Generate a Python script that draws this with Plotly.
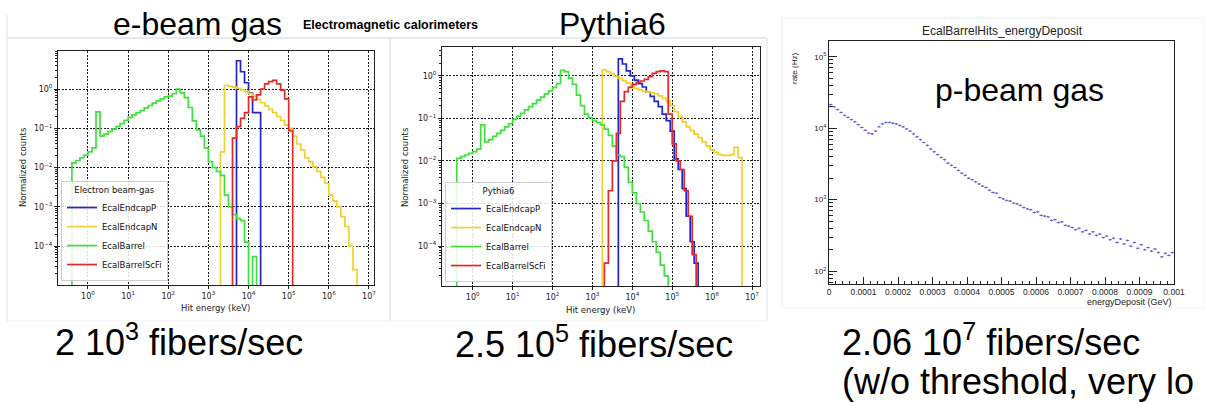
import plotly.graph_objects as go

# ===================== data =====================
SERIES = ["EcalEndcapP", "EcalEndcapN", "EcalBarrel", "EcalBarrelScFi"]
BIN = 0.1  # histogram bin width, decades of keV

# --- e-beam gas panel: lower edge of first bin (log10 keV), log10(normalized counts) per bin, None = empty bin
ebeam_endcapP_start = 3.7
ebeam_endcapP = [0.72, 0.44, 0.16, -0.1, -0.6, -0.6]
ebeam_endcapN_start = 3.3
ebeam_endcapN = [-1.6, 0.09, 0.07, 0.05, 0.02, -0.02, -0.06, -0.11, -0.18, -0.26, -0.35, -0.43,
                 -0.52, -0.6, -0.7, -0.8, -0.92, -1.0, -1.2, -1.4, -1.55, -1.75, -1.85, -1.98,
                 -2.1, -2.25, -2.4, -2.7, -2.85, -3.0, -3.25, -3.5, -4.0, -4.6]
ebeam_barrel_start = -0.4
ebeam_barrel = [-1.88, -1.82, -1.75, -1.68, -1.6, -1.5, -0.58, -1.2, -1.15, -1.08, -1.02, -0.95,
                -0.88, -0.8, -0.72, -0.66, -0.6, -0.55, -0.48, -0.42, -0.36, -0.3, -0.25, -0.2,
                -0.18, -0.12, 0.0, -0.1, -0.22, -0.47, -0.81, -1.04, -1.2, -1.5, -1.85, -2.0,
                -2.1, -2.2, -2.7, -3.0, -3.2, -3.3, -3.35, -3.9, None, -4.27]
ebeam_scfi_start = 3.6
ebeam_scfi = [-1.25, -0.96, -0.75, -0.6, -0.2, -0.28, -0.15, 0.0, 0.13, 0.19, 0.22, 0.13, -0.03,
              -0.25, -1.06]

# --- Pythia6 panel
pythia_endcapP_start = 3.65
pythia_endcapP = [0.4, 0.28, 0.12, 0.0, -0.1, -0.18, -0.26, -0.38, -0.48, -0.6, -0.72, -0.9,
                  -1.05, -1.3, -1.95, -2.2, -2.65, -3.3, -3.9, -4.4]
pythia_endcapN_start = 3.25
pythia_endcapN = [0.14, 0.1, 0.05, -0.01, -0.06, -0.11, -0.17, -0.24, -0.29, -0.33, -0.36, -0.38,
                  -0.40, -0.42, -0.47, -0.53, -0.6, -0.7, -0.84, -0.96, -1.08, -1.2, -1.28, -1.37,
                  -1.45, -1.55, -1.65, -1.74, -1.8, -1.85, -1.87, -1.87, -1.85, -1.68, -1.92]
pythia_barrel_start = -0.4
pythia_barrel = [-1.94, -1.9, -1.86, -1.82, -1.78, -1.72, -1.15, -1.55, -1.5, -1.42, -1.35, -1.28,
                 -1.2, -1.12, -1.02, -0.95, -0.88, -0.8, -0.72, -0.65, -0.57, -0.5, -0.42, -0.35,
                 -0.27, -0.18, 0.13, 0.1, -0.05, -0.2, -0.45, -0.7, -0.9, -0.98, -1.05, -1.1,
                 -1.15, -1.25, -1.4, -1.65, -1.86, -1.9, -2.15, -2.5, -2.75, -3.0, -3.2, -3.4,
                 -3.65, -3.9, -4.15, -4.45, -4.7]
pythia_scfi_start = 3.3
pythia_scfi = [-4.4, -2.7, -2.0, -1.35, -0.6, -0.37, -0.27, -0.2, -0.15, -0.12, -0.08, -0.02,
               0.06, 0.1, 0.12, 0.1, -0.9, -1.6, -2.0, -2.2, -2.7, -3.3, -4.2]

# --- p-beam gas panel: 100 bins over 0..0.001 GeV, log10(rate in Hz)
pbeam_range_gev = [0.0, 0.001]
pbeam_rate_log10 = [4.33, 4.30, 4.26, 4.22, 4.18, 4.15, 4.12, 4.09, 4.05, 4.01,
                    3.97, 3.93, 3.92, 3.96, 4.02, 4.06, 4.08, 4.08, 4.07, 4.06,
                    4.04, 4.02, 3.99, 3.96, 3.92, 3.88, 3.84, 3.80, 3.76, 3.71,
                    3.67, 3.63, 3.59, 3.56, 3.51, 3.48, 3.45, 3.41, 3.37, 3.34,
                    3.30, 3.28, 3.25, 3.22, 3.19, 3.17, 3.13, 3.10, 3.09, 3.03,
                    3.01, 2.99, 2.98, 2.95, 2.94, 2.92, 2.89, 2.87, 2.86, 2.82,
                    2.83, 2.78, 2.77, 2.76, 2.71, 2.72, 2.68, 2.69, 2.64, 2.63,
                    2.61, 2.58, 2.60, 2.55, 2.57, 2.52, 2.55, 2.50, 2.52, 2.47,
                    2.49, 2.44, 2.46, 2.40, 2.45, 2.38, 2.43, 2.35, 2.40, 2.32,
                    2.37, 2.30, 2.33, 2.28, 2.31, 2.26, 2.20, 2.25, 2.22, 2.26]

# --- tick labels
hist_xtick_exp = [0, 1, 2, 3, 4, 5, 6, 7]
hist_ytick_exp = [-4, -3, -2, -1, 0]
pbeam_xtick_vals = [0, 0.0001, 0.0002, 0.0003, 0.0004, 0.0005, 0.0006, 0.0007, 0.0008, 0.0009, 0.001]
pbeam_xtick_text = ["0", "0.0001", "0.0002", "0.0003", "0.0004", "0.0005", "0.0006",
                    "0.0007", "0.0008", "0.0009", "0.001"]
pbeam_ytick_exp = [2, 3, 4, 5]

# ===================== styling / layout =====================
W, H = 1205, 403
COLORS = {"EcalEndcapP": "#2424c8", "EcalEndcapN": "#f0d030",
          "EcalBarrel": "#3ee03e", "EcalBarrelScFi": "#e02a2a"}
SLIDE = "Liberation Sans, Arial, sans-serif"
MPL = "DejaVu Sans, sans-serif"
FLOOR = 1e-12


def fx(px):
    return px / W


def fy(py):
    return 1 - py / H


def step_xy(start, logvals):
    n = len(logvals)
    edges = [10 ** (start + BIN * i) for i in range(n + 1)]
    counts = [10 ** v if v is not None else FLOOR for v in logvals]
    xs = [edges[0]] + edges[:n] + [edges[n], edges[n]]
    ys = [FLOOR] + counts + [counts[-1], FLOOR]
    return xs, ys


fig = go.Figure()

panels = [
    ("x", "y", "legend", [(ebeam_endcapP_start, ebeam_endcapP), (ebeam_endcapN_start, ebeam_endcapN),
                          (ebeam_barrel_start, ebeam_barrel), (ebeam_scfi_start, ebeam_scfi)]),
    ("x2", "y2", "legend2", [(pythia_endcapP_start, pythia_endcapP), (pythia_endcapN_start, pythia_endcapN),
                             (pythia_barrel_start, pythia_barrel), (pythia_scfi_start, pythia_scfi)]),
]
for xa, ya, leg, series in panels:
    for name, (start, vals) in zip(SERIES, series):
        xs, ys = step_xy(start, vals)
        fig.add_trace(go.Scatter(x=xs, y=ys, mode="lines", line_shape="hv", name=name,
                                 line=dict(color=COLORS[name], width=1.7),
                                 xaxis=xa, yaxis=ya, legend=leg, hoverinfo="skip"))

# p-beam gas histogram with error bars
nb = len(pbeam_rate_log10)
bw = (pbeam_range_gev[1] - pbeam_range_gev[0]) / nb
px_centers = [pbeam_range_gev[0] + bw * (i + 0.5) for i in range(nb)]
PB = "rgba(88,88,215,0.9)"
fig.add_trace(go.Scatter(
    x=px_centers, y=[10 ** v for v in pbeam_rate_log10], mode="markers",
    marker=dict(size=1.2, color=PB),
    error_x=dict(type="constant", value=bw / 2, width=0, thickness=1, color=PB),
    error_y=dict(type="percent", value=3, width=0, thickness=1, color=PB),
    xaxis="x3", yaxis="y3", showlegend=False, hoverinfo="skip"))

sup = lambda e: "10<sup>%s</sup>" % (str(e).replace("-", "\u2212"))
minor_hist = [m * 10 ** k for k in range(-6, 2) for m in range(2, 10)]
minor_pbeam = [m * 10 ** k for k in range(1, 6) for m in range(2, 10)]

hist_axis_common = dict(type="log", showline=True, mirror=True, linecolor="#222", linewidth=1,
                        ticks="outside", ticklen=3, tickcolor="#222", showgrid=True,
                        gridcolor="#1a1a1a", griddash="2px,1.5px", gridwidth=1, zeroline=False,
                        automargin=False,
                        tickfont=dict(size=8, family=MPL, color="#222"))


def hist_axes(xpx, ypx, xr, yr, anchor_x, anchor_y):
    xa = dict(hist_axis_common, domain=[fx(xpx[0]), fx(xpx[1])], range=xr, anchor=anchor_y,
              tickmode="array", tickvals=[10 ** e for e in hist_xtick_exp],
              ticktext=[sup(e) for e in hist_xtick_exp])
    ya = dict(hist_axis_common, domain=[fy(ypx[1]), fy(ypx[0])], range=yr, anchor=anchor_x,
              tickmode="array", tickvals=[10 ** e for e in hist_ytick_exp],
              ticktext=[sup(e) for e in hist_ytick_exp],
              minor=dict(tickmode="array", tickvals=minor_hist, ticks="outside", ticklen=2,
                         tickcolor="#222", showgrid=False))
    return xa, ya


x1, y1 = hist_axes((58, 374), (51, 285), [-0.747, 7.125], [-4.99, 0.968], "x", "y")
x2, y2 = hist_axes((442, 760), (47, 286), [-0.77, 7.2], [-4.94, 0.68], "x2", "y2")

x3 = dict(domain=[fx(829), fx(1174)], range=[0, 0.001], anchor="y3", showline=True, mirror=True,
          linecolor="#222", linewidth=1, ticks="inside", ticklen=7, tickcolor="#222",
          tickmode="array", tickvals=pbeam_xtick_vals, ticktext=pbeam_xtick_text,
          minor=dict(tickmode="linear", tick0=0, dtick=0.00002, ticks="inside", ticklen=3,
                     tickcolor="#222", showgrid=False),
          showgrid=False, zeroline=False, automargin=False,
          tickfont=dict(size=8.5, family=SLIDE, color="#222"))
y3 = dict(type="log", domain=[fy(284), fy(41)], range=[1.82, 5.22], anchor="x3", showline=True,
          mirror=True, linecolor="#222", linewidth=1, ticks="inside", ticklen=8, tickcolor="#222",
          tickmode="array", tickvals=[10 ** e for e in pbeam_ytick_exp],
          ticktext=[sup(e) for e in pbeam_ytick_exp],
          minor=dict(tickmode="array", tickvals=minor_pbeam, ticks="inside", ticklen=4,
                     tickcolor="#222", showgrid=False),
          showgrid=False, zeroline=False, automargin=False,
          tickfont=dict(size=8, family=SLIDE, color="#222"))


def ann(text, x, y, size, family=SLIDE, xanchor="center", yanchor="middle", angle=0, color="#000"):
    return dict(text=text, x=fx(x), y=fy(y), xref="paper", yref="paper", showarrow=False,
                xanchor=xanchor, yanchor=yanchor, textangle=angle,
                font=dict(size=size, family=family, color=color))


annotations = [
    ann("e-beam gas", 197, 24, 32),
    ann("<b>Electromagnetic calorimeters</b>", 390, 25, 12.5),
    ann("Pythia6", 612, 24, 32),
    ann("EcalBarrelHits_energyDeposit", 1002, 31, 12, color="#222"),
    ann("p-beam gas", 1019, 90, 32),
    ann("Normalized counts", 23, 167, 8.5, family=MPL, angle=-90, color="#222"),
    ann("Hit energy (keV)", 215, 308, 8.5, family=MPL, color="#222"),
    ann("Normalized counts", 405, 167, 8.5, family=MPL, angle=-90, color="#222"),
    ann("Hit energy (keV)", 600, 310, 8.5, family=MPL, color="#222"),
    ann("rate (Hz)", 795, 69, 8, angle=-90, color="#222"),
    ann("energyDeposit (GeV)", 1174, 302, 9, xanchor="right", color="#222"),
    ann("2 10<sup>3</sup> fibers/sec", 53, 340, 36, xanchor="left"),
    ann("2.5 10<sup>5</sup> fibers/sec", 453, 342, 36, xanchor="left"),
    ann("2.06 10<sup>7</sup> fibers/sec", 840, 340, 36, xanchor="left"),
    ann("(w/o threshold, very lo", 840, 381, 36, xanchor="left"),
]

EDGE = "#dde2e8"
shapes = [
    dict(type="line", xref="paper", yref="paper", x0=fx(7), x1=fx(7), y0=fy(15), y1=fy(321),
         line=dict(color=EDGE, width=1)),
    dict(type="line", xref="paper", yref="paper", x0=fx(7), x1=fx(767), y0=fy(38), y1=fy(38),
         line=dict(color=EDGE, width=1.5)),
    dict(type="line", xref="paper", yref="paper", x0=fx(390), x1=fx(390), y0=fy(38), y1=fy(321),
         line=dict(color=EDGE, width=1.5)),
    dict(type="line", xref="paper", yref="paper", x0=fx(767), x1=fx(767), y0=fy(38), y1=fy(320),
         line=dict(color=EDGE, width=1)),
    dict(type="line", xref="paper", yref="paper", x0=fx(7), x1=fx(767), y0=fy(321), y1=fy(321),
         line=dict(color="#eef1f4", width=1)),
    dict(type="rect", xref="paper", yref="paper", x0=fx(782), x1=fx(1204), y0=fy(308), y1=fy(18),
         line=dict(color="#eef1f4", width=1)),
]

legend_common = dict(xanchor="left", yanchor="bottom", bgcolor="rgba(255,255,255,0.85)",
                     bordercolor="#cfcfcf", borderwidth=1,
                     font=dict(size=8.5, family=MPL, color="#111"), itemwidth=30,
                     tracegroupgap=0)

fig.update_layout(
    template="none",
    width=W, height=H, margin=dict(l=0, r=0, t=0, b=0, pad=0),
    paper_bgcolor="white", plot_bgcolor="white",
    xaxis=x1, yaxis=y1, xaxis2=x2, yaxis2=y2, xaxis3=x3, yaxis3=y3,
    annotations=annotations, shapes=shapes, hovermode=False,
    legend=dict(legend_common, x=fx(61), y=fy(281),
                title=dict(text="Electron beam-gas", side="top center",
                           font=dict(size=8.5, family=MPL, color="#111"))),
    legend2=dict(legend_common, x=fx(445), y=fy(282),
                 title=dict(text="Pythia6", side="top center",
                            font=dict(size=8.5, family=MPL, color="#111"))),
)

fig.write_html("out.html", config={"displayModeBar": False},
               post_script="document.body.style.margin='0';document.body.style.padding='0';"
                           "document.documentElement.style.overflow='hidden';")
